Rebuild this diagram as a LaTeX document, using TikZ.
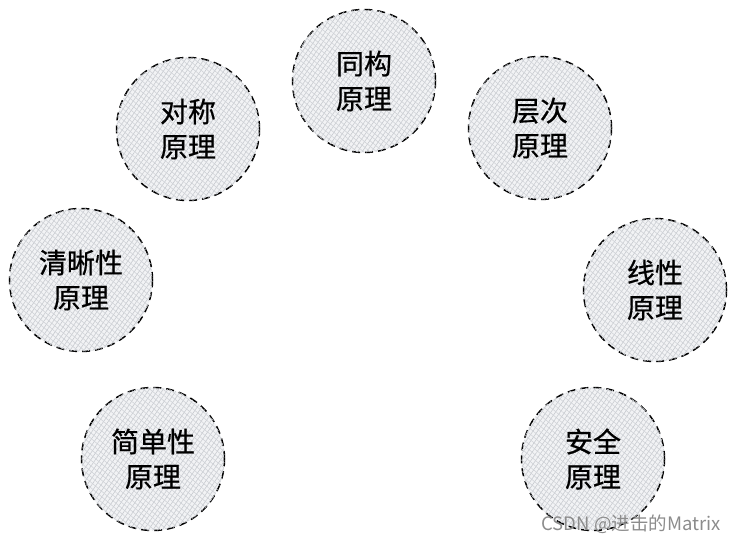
\documentclass[tikz,border=0pt]{standalone}
\usepackage{fontspec}
\newfontfamily\cjk[FakeBold=0.6]{Noto Sans CJK SC}
\newfontfamily\cjkwm{Noto Sans CJK SC}
\usetikzlibrary{patterns.meta}
\tikzset{
  principle/.style={circle, draw=black, line width=1.5pt, dash pattern=on 8pt off 5pt,
    fill={rgb,255:red,242;green,243;blue,245},
    postaction={pattern={Lines[angle=55,distance=3.8pt,line width=0.6pt]}, pattern color={rgb,255:red,200;green,203;blue,208}},
    postaction={pattern={Lines[angle=-40,distance=4.2pt,line width=0.6pt]}, pattern color={rgb,255:red,208;green,211;blue,216}},
    minimum size=143pt, inner sep=0pt, align=center, text=black,
    font=\cjk\fontsize{28}{35}\selectfont},
  watermark/.style={anchor=east, text={rgb,255:red,140;green,140;blue,140}, font=\cjkwm\fontsize{18.5}{18.5}\selectfont, inner sep=0pt}
}
\begin{document}
\begin{tikzpicture}[x=1pt,y=-1pt]
\useasboundingbox (0,0) rectangle (736,543);
\node[principle] (tonggou) at (364,81) {同构\\原理};
\node[principle] (duichen) at (188,129) {对称\\原理};
\node[principle] (cengci) at (540,128) {层次\\原理};
\node[principle] (qingxi) at (81,280) {清晰性\\原理};
\node[principle] (xianxing) at (655,290) {线性\\原理};
\node[principle] (jiandan) at (153,459) {简单性\\原理};
\node[principle] (anquan) at (593,459) {安全\\原理};
\node[watermark] (wm) at (721,524) {CSDN @进击的Matrix};
\end{tikzpicture}
\end{document}
